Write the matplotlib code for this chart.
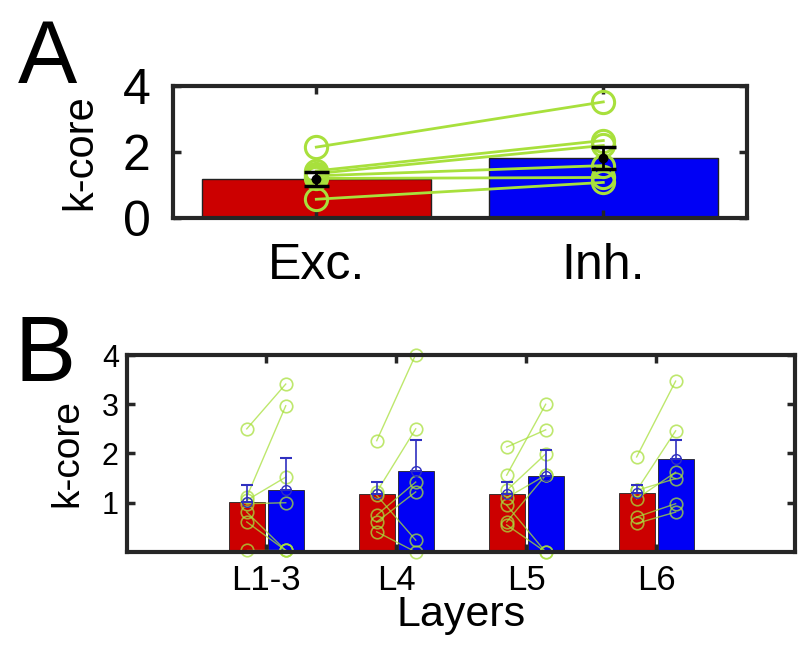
import numpy as np
import matplotlib
matplotlib.use("Agg")
import matplotlib.pyplot as plt

plt.rcParams['font.family'] = ['Liberation Sans', 'DejaVu Sans']

# panel A: excitatory vs inhibitory
cell_types = ["Exc.", "Inh."]
a_means = [1.18, 1.82]
a_sem = [0.21, 0.33]
# paired values per animal (exc -> inh)
a_exc = [2.15, 1.43, 1.35, 1.28, 1.20, 0.57]
a_inh = [3.52, 2.35, 2.20, 1.59, 1.23, 1.08]

# panel B: per layer
layers = ["L1-3", "L4", "L5", "L6"]
b_exc_mean = [1.02, 1.17, 1.17, 1.19]
b_inh_mean = [1.25, 1.64, 1.54, 1.88]
b_exc_sem = [0.33, 0.25, 0.25, 0.18]
b_inh_sem = [0.66, 0.64, 0.53, 0.40]
b_exc_pts = [
    [2.50, 1.12, 1.05, 0.98, 0.81, 0.61, 0.03],
    [2.26, 1.22, 1.15, 0.75, 0.61, 0.41],
    [2.13, 1.56, 1.25, 1.10, 0.95, 0.61, 0.55],
    [1.93, 1.25, 1.25, 1.08, 0.71, 0.58],
]
b_inh_pts = [
    [3.41, 2.97, 1.52, 1.00, 0.03, 0.03, 0.03],
    [4.01, 2.50, 0.24, 1.42, 1.22, 0.00],
    [2.48, 3.00, 1.99, 1.56, 0.00, 1.56, 0.00],
    [3.47, 2.46, 1.49, 1.62, 0.98, 0.81],
]

red = "#CC0000"
blue = "#0000F5"
green = "#A8E03C"
frame = "#262626"


def style_axes(ax, lw=3.0):
    for s in ax.spines.values():
        s.set_linewidth(lw)
        s.set_color(frame)
    ax.tick_params(direction="in", top=True, right=True, length=6,
                   width=2.5, color=frame)


fig = plt.figure(figsize=(8, 6.49), dpi=100)

# ---------------- A ----------------
axA = fig.add_axes([0.216, 0.664, 0.7175, 0.2034])
xa = np.arange(1, 3)
axA.bar(xa, a_means, width=0.8, color=[red, blue], edgecolor="#222222",
        linewidth=1.0, zorder=1)
for e, i in zip(a_exc, a_inh):
    axA.plot([1, 2], [e, i], color=green, lw=2.0, marker="o", ms=16,
             mfc="none", mec=green, mew=2.2, zorder=2, clip_on=False)
axA.errorbar(xa, a_means, yerr=a_sem, fmt="o", color="black", ms=6,
             capsize=9, elinewidth=2, capthick=2.5, zorder=3)
axA.set_xlim(0.5, 2.5)
axA.set_ylim(0, 4)
axA.set_yticks([0, 2, 4])
axA.set_xticks(xa)
axA.set_xticklabels(cell_types)
style_axes(axA)
axA.tick_params(axis="y", labelsize=36, pad=16)
axA.tick_params(axis="x", labelsize=36, pad=18)
axA.set_ylabel("k-core", fontsize=30, labelpad=16)
fig.text(0.022, 0.872, "A", fontsize=64)

# ---------------- B ----------------
axB = fig.add_axes([0.159, 0.1495, 0.835, 0.3035])
xb = np.arange(1, 5)
off = 0.15
bw = 0.277
axB.bar(xb - off, b_exc_mean, width=bw, color=red, edgecolor="#222222",
        linewidth=0.6, zorder=1)
axB.bar(xb + off, b_inh_mean, width=bw, color=blue, edgecolor="#222222",
        linewidth=0.6, zorder=1)
for k in range(len(layers)):
    for e, i in zip(b_exc_pts[k], b_inh_pts[k]):
        axB.plot([xb[k] - off, xb[k] + off], [e, i], color=green, lw=1.0,
                 alpha=0.75, marker="o", ms=9, mfc="none", mec=green,
                 mew=1.2, zorder=2, clip_on=False)
axB.errorbar(xb - off, b_exc_mean, yerr=[np.zeros(4), b_exc_sem], fmt="o",
             color="#3030C0", mfc="none", ms=7, capsize=4, elinewidth=1.2,
             capthick=1.5, zorder=3)
axB.errorbar(xb + off, b_inh_mean, yerr=[np.zeros(4), b_inh_sem], fmt="o",
             color="#3030C0", mfc="none", ms=7, capsize=4, elinewidth=1.2,
             capthick=1.5, zorder=3)
axB.set_xlim(-0.07, 5.07)
axB.set_ylim(0, 4)
axB.set_yticks([1, 2, 3, 4])
axB.set_xticks(xb)
axB.set_xticklabels(layers)
style_axes(axB)
axB.tick_params(axis="y", labelsize=22, pad=6)
axB.tick_params(axis="x", labelsize=25, pad=9)
axB.set_ylabel("k-core", fontsize=28, labelpad=12)
axB.set_xlabel("Layers", fontsize=31, labelpad=-2)
fig.text(0.018, 0.413, "B", fontsize=66)

fig.savefig("out.png", dpi=100)
